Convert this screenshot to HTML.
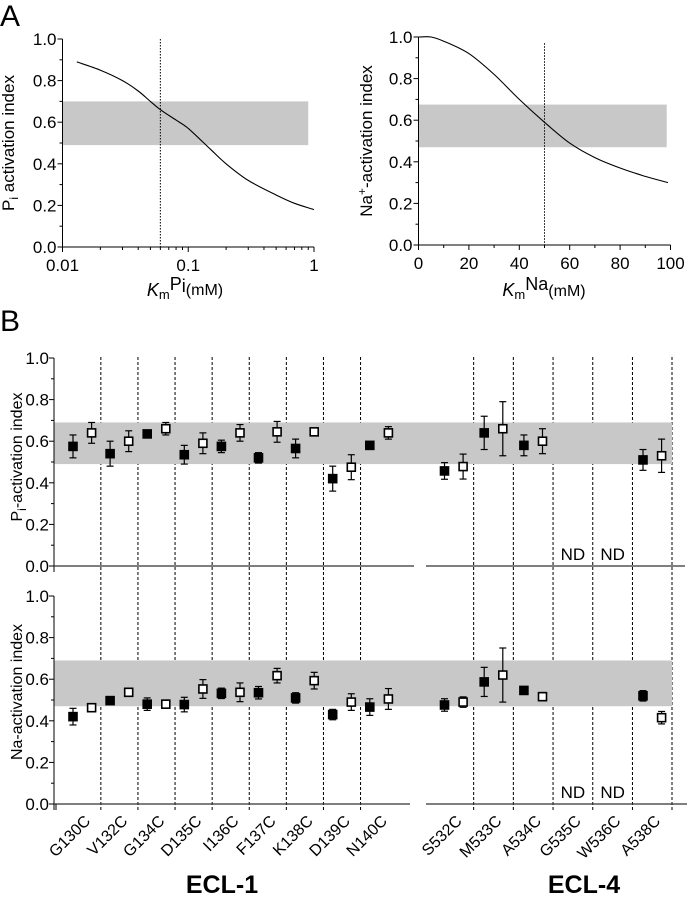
<!DOCTYPE html>
<html><head><meta charset="utf-8"><style>
html,body{margin:0;padding:0;background:#fff;}
svg{display:block;font-family:"Liberation Sans",sans-serif;}
</style></head><body>
<svg id="fig" width="687" height="900" viewBox="0 0 687 900" xmlns="http://www.w3.org/2000/svg">
<text x="0" y="26" font-size="30">A</text>
<text x="0" y="331" font-size="30">B</text>
<g id="g"></g>
</svg>
<script>
// Panel A data
const piConc = [0.013,0.02,0.03,0.04,0.05,0.06,0.08,0.1,0.15,0.2,0.3,0.5,0.7,1];
const piIndex = [0.89,0.85,0.80,0.75,0.70,0.66,0.61,0.57,0.47,0.40,0.32,0.25,0.21,0.18];
const naConc = [0,5,10,20,30,40,50,60,70,80,90,99];
const naIndex = [1.0,1.0,0.98,0.92,0.82,0.70,0.59,0.49,0.42,0.37,0.33,0.30];
const piBand = [0.49,0.70];
const naBand = [0.47,0.675];
const piKm = 0.06;
const naKm = 50;
const yTickLabels = ["0.0","0.2","0.4","0.6","0.8","1.0"];
const logTickLabels = ["0.01","0.1","1"];
const linTickLabels = ["0","20","40","60","80","100"];
// Panel B data
const ecl1 = ["G130C","V132C","G134C","D135C","I136C","F137C","K138C","D139C","N140C"];
const ecl4 = ["S532C","M533C","A534C","G535C","W536C","A538C"];
const piFilled1 = [0.575,0.54,0.635,0.535,0.575,0.52,0.565,0.42,0.58];
const piFilledErr1 = [0.055,0.06,0.01,0.045,0.03,0.025,0.045,0.06,0.01];
const piOpen1 = [0.64,0.60,0.66,0.59,0.64,0.645,0.645,0.475,0.64];
const piOpenErr1 = [0.05,0.05,0.03,0.05,0.04,0.05,0.01,0.06,0.03];
const piFilled4 = [0.457,0.64,0.58,null,null,0.51];
const piFilledErr4 = [0.04,0.08,0.05,null,null,0.05];
const piOpen4 = [0.478,0.66,0.60,null,null,0.53];
const piOpenErr4 = [0.06,0.13,0.06,null,null,0.08];
const naFilled1 = [0.42,0.497,0.48,0.478,0.532,0.535,0.51,0.43,0.466];
const naFilledErr1 = [0.04,0.01,0.03,0.035,0.025,0.03,0.025,0.025,0.04];
const naOpen1 = [0.463,0.537,0.48,0.553,0.537,0.617,0.593,0.49,0.505];
const naOpenErr1 = [0.01,0.015,0.02,0.045,0.045,0.035,0.04,0.04,0.05];
const naFilled4 = [0.476,0.587,0.546,null,null,0.52];
const naFilledErr4 = [0.03,0.07,0.01,null,null,0.025];
const naOpen4 = [0.49,0.62,0.516,null,null,0.415];
const naOpenErr4 = [0.025,0.13,0.02,null,null,0.03];
const bBandPi = [0.49,0.69];
const bBandNa = [0.47,0.69];

const NS="http://www.w3.org/2000/svg";
const G=document.getElementById('g');
function mk(tag,attrs,name,parent){const e=document.createElementNS(NS,tag);for(const k in attrs)e.setAttribute(k,attrs[k]);


(parent||G).appendChild(e);return e;}
function txt(x,y,s,size,name,anchor,extra){const t=mk('text',Object.assign({x:x,y:y,'font-size':size,'text-anchor':anchor||'middle'},extra||{}),name);t.textContent=s;return t;}
function smooth(P){let d='M'+P[0][0].toFixed(1)+','+P[0][1].toFixed(1);
  for(let i=0;i<P.length-1;i++){const p0=P[Math.max(0,i-1)],p1=P[i],p2=P[i+1],p3=P[Math.min(P.length-1,i+2)];
    const c1=[p1[0]+(p2[0]-p0[0])/6,p1[1]+(p2[1]-p0[1])/6],c2=[p2[0]-(p3[0]-p1[0])/6,p2[1]-(p3[1]-p1[1])/6];
    d+='C'+c1.map(v=>v.toFixed(1)).join(',')+' '+c2.map(v=>v.toFixed(1)).join(',')+' '+p2.map(v=>v.toFixed(1)).join(',');}
  return d;}

// ---------- Panel A left ----------
const xL=v=>62.5+(Math.log10(v)+2)*125.75;
const yA1=v=>247-208*v;
mk('rect',{x:xL(0.01),y:yA1(piBand[1]),width:xL(0.9)-xL(0.01),height:yA1(piBand[0])-yA1(piBand[1]),fill:'#c8c8c8'},'pi-range-band');
mk('line',{x1:xL(piKm),x2:xL(piKm),y1:yA1(1.0),y2:yA1(0),stroke:'#000','stroke-dasharray':'1.5,1.5'},'pi-km-line');
mk('path',{d:smooth(piConc.map((c,i)=>[xL(c),yA1(piIndex[i])])),fill:'none',stroke:'#000','stroke-width':1.1},'pi-curve');
mk('line',{x1:xL(0.01),x2:xL(0.01),y1:yA1(1.0),y2:yA1(0),stroke:'#000'},'y-axis-a1');
mk('line',{x1:xL(0.01),x2:xL(1),y1:yA1(0),y2:yA1(0),stroke:'#000'},'x-axis-a1');
for(let i=0;i<=10;i++){const v=i/10;mk('line',{x1:xL(0.01)-(i%2?3:5),x2:xL(0.01),y1:yA1(v),y2:yA1(v),stroke:'#000'},'y-tick');}
yTickLabels.forEach((s,i)=>txt(xL(0.01)-6,yA1(i*0.2)+6,s,17,'y-tick-label','end'));
for(let d=-2;d<0;d++)for(let m=1;m<10;m++){const v=m*Math.pow(10,d);mk('line',{x1:xL(v),x2:xL(v),y1:yA1(0),y2:yA1(0)+(m==1?5:3),stroke:'#000'},'x-tick');}
mk('line',{x1:xL(1),x2:xL(1),y1:yA1(0),y2:yA1(0)+5,stroke:'#000'},'x-tick');
logTickLabels.forEach((s,i)=>txt(xL(Math.pow(10,i-2)),yA1(0)+24,s,17,'x-tick-label'));
{const t=txt(185,296,'',18,'x-axis-title-a1');t.innerHTML='<tspan font-style="italic">K</tspan><tspan font-size="13" dy="3">m</tspan><tspan dy="-9">P</tspan><tspan dy="2">i</tspan><tspan dy="3" font-size="16">(mM)</tspan>';}
{const t=txt(0,0,'',17,'y-axis-title-a1','middle',{transform:'translate(14,143) rotate(-90)'});t.innerHTML='P<tspan font-size="12" dy="4">i</tspan><tspan dy="-4"> activation index</tspan>';}

// ---------- Panel A right ----------
const xR=v=>418.5+v*2.52;
const yA2=v=>245-208*v;
mk('rect',{x:xR(0),y:yA2(naBand[1]),width:xR(98.5)-xR(0),height:yA2(naBand[0])-yA2(naBand[1]),fill:'#c8c8c8'},'na-range-band');
mk('line',{x1:xR(naKm),x2:xR(naKm),y1:yA2(0.97),y2:yA2(0),stroke:'#000','stroke-dasharray':'1.5,1.5'},'na-km-line');
mk('path',{d:smooth(naConc.map((c,i)=>[xR(c),yA2(naIndex[i])])),fill:'none',stroke:'#000','stroke-width':1.1},'na-curve');
mk('line',{x1:xR(0),x2:xR(0),y1:yA2(1.0),y2:yA2(0),stroke:'#000'},'y-axis-a2');
mk('line',{x1:xR(0),x2:xR(100),y1:yA2(0),y2:yA2(0),stroke:'#000'},'x-axis-a2');
for(let i=0;i<=10;i++){const v=i/10;mk('line',{x1:xR(0)-(i%2?3:5),x2:xR(0),y1:yA2(v),y2:yA2(v),stroke:'#000'},'y-tick');}
yTickLabels.forEach((s,i)=>txt(xR(0)-6,yA2(i*0.2)+6,s,17,'y-tick-label','end'));
for(let i=0;i<=10;i++){mk('line',{x1:xR(i*10),x2:xR(i*10),y1:yA2(0),y2:yA2(0)+(i%2?3:5),stroke:'#000'},'x-tick');}
linTickLabels.forEach((s,i)=>txt(xR(i*20),yA2(0)+24,s,17,'x-tick-label'));
{const t=txt(544,296,'',18,'x-axis-title-a2');t.innerHTML='<tspan font-style="italic">K</tspan><tspan font-size="13" dy="3">m</tspan><tspan dy="-9">Na</tspan><tspan dy="6" font-size="16">(mM)</tspan>';}
{const t=txt(0,0,'',17,'y-axis-title-a2','middle',{transform:'translate(372,141) rotate(-90)'});t.innerHTML='Na<tspan font-size="12" dy="-6">+</tspan><tspan dy="6">-activation index</tspan>';}

// ---------- Panel B ----------
const cx1=i=>82.3+i*37.1;
const cx4=j=>453.8+j*39.7;
const off=9.3;
function bPanel(y0,fl1,fe1,op1,oe1,fl4,fe4,op4,oe4,band,title,tY,axisL,axisR){
  const y=v=>y0-208*v;
  mk('rect',{x:54,y:y(band[1]),width:672-54,height:y(band[0])-y(band[1]),fill:'#c8c8c8'},'range-band');
  mk('line',{x1:54,x2:54,y1:y(1),y2:y(0)+6,stroke:'#000'},'y-axis');
  for(let i=0;i<=10;i++){const v=i/10;mk('line',{x1:54-(i%2?3:5),x2:54,y1:y(v),y2:y(v),stroke:'#000'},'y-tick');}
  yTickLabels.forEach((s,i)=>txt(49,y(i*0.2)+6,s,17,'y-tick-label','end'));
  mk('line',{x1:54,x2:axisL,y1:y(0),y2:y(0),stroke:'#333','stroke-width':1.3},'x-axis-ecl1');
  mk('line',{x1:426,x2:axisR,y1:y(0),y2:y(0),stroke:'#333','stroke-width':1.3},'x-axis-ecl4');
  function pt(x,v,e,filled,name){
    if(v===null)return;
    mk('line',{x1:x,x2:x,y1:y(v+e),y2:y(v-e),stroke:'#000','stroke-width':1.2},'error-bar');
    mk('line',{x1:x-3.5,x2:x+3.5,y1:y(v+e),y2:y(v+e),stroke:'#000','stroke-width':1.2},'error-cap');
    mk('line',{x1:x-3.5,x2:x+3.5,y1:y(v-e),y2:y(v-e),stroke:'#000','stroke-width':1.2},'error-cap');
    mk('rect',{x:x-4,y:y(v)-4,width:8,height:8,fill:filled?'#000':'#fff',stroke:'#000','stroke-width':1.6},name);
  }
  ecl1.forEach((c,i)=>{pt(cx1(i)-off,fl1[i],fe1[i],true,'marker-wt-'+c);pt(cx1(i)+off,op1[i],oe1[i],false,'marker-mod-'+c);});
  ecl4.forEach((c,j)=>{
    if(fl4[j]===null&&op4[j]===null){txt(cx4(j),y(0)-6,'ND',17,'nd-label-'+c);return;}
    pt(cx4(j)-off,fl4[j],fe4[j],true,'marker-wt-'+c);pt(cx4(j)+off,op4[j],oe4[j],false,'marker-mod-'+c);});
  const t=txt(0,0,'',16,'y-axis-title','middle',{transform:'translate(22,'+tY+') rotate(-90)'});
  t.innerHTML=title;
}
for(let i=0;i<ecl1.length-1;i++){const x=(cx1(i)+cx1(i+1))/2;mk('line',{x1:x,x2:x,y1:357,y2:812,stroke:'#000','stroke-dasharray':'3,2'},'divider-ecl1');}
for(let j=0;j<ecl4.length;j++){const x=j<ecl4.length-1?(cx4(j)+cx4(j+1))/2:cx4(j)+19.7;mk('line',{x1:x,x2:x,y1:357,y2:812,stroke:'#000','stroke-dasharray':'3,2'},'divider-ecl4');}
bPanel(566,piFilled1,piFilledErr1,piOpen1,piOpenErr1,piFilled4,piFilledErr4,piOpen4,piOpenErr4,bBandPi,'P<tspan font-size="12" dy="4">i</tspan><tspan dy="-4">-activation index</tspan>',457,414,685);
bPanel(804,naFilled1,naFilledErr1,naOpen1,naOpenErr1,naFilled4,naFilledErr4,naOpen4,naOpenErr4,bBandNa,'Na-activation index',692,410,687);
mk('line',{x1:56,x2:56,y1:804,y2:810,stroke:'#000'},'x-tick');
ecl1.forEach((c,i)=>txt(0,0,c,16,'category-label-'+c,'end',{transform:'translate('+(cx1(i)+9)+',822) rotate(-45)'}));
ecl4.forEach((c,j)=>txt(0,0,c,16,'category-label-'+c,'end',{transform:'translate('+(cx4(j)+9)+',822) rotate(-45)'}));
txt(222,893,'ECL-1',25,'group-label-ecl1','middle',{'font-weight':'bold'});
txt(584,893,'ECL-4',25,'group-label-ecl4','middle',{'font-weight':'bold'});
</script>
</body></html>
